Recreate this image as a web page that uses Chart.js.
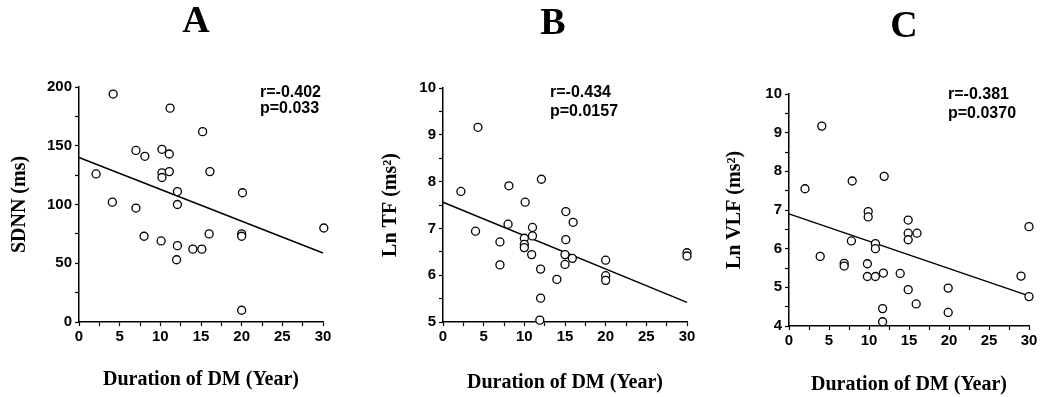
<!DOCTYPE html>
<html>
<head>
<meta charset="utf-8">
<script src="https://cdn.jsdelivr.net/npm/chart.js@4.4.1/dist/chart.umd.min.js"></script>
<style>
  html, body { margin: 0; padding: 0; background: #fff; }
  #wrap { position: relative; width: 1041px; height: 397px; overflow: hidden; }
  .panel { position: absolute; top: 0; height: 397px; }
</style>
</head>
<body>
<div id="wrap">
  <div class="panel" style="left:0;width:350px"><canvas id="cA" width="350" height="397"></canvas></div>
  <div class="panel" style="left:350px;width:350px"><canvas id="cB" width="350" height="397"></canvas></div>
  <div class="panel" style="left:700px;width:341px"><canvas id="cC" width="341" height="397"></canvas></div>
</div>
<script>
// ---------- data ----------
const xTickValues = [0, 5, 10, 15, 20, 25, 30];
const xAxisTitle = 'Duration of DM (Year)';

// Panel A : SDNN
const durationA = [2.1, 4.2, 4.1, 7.0, 7.0, 8.1, 8.0, 10.2, 10.2, 10.2, 10.1, 11.2, 11.1, 11.1, 12.1, 12.1, 12.1, 12.0, 14.0, 15.1, 15.2, 16.0, 16.1, 20.1, 20.0, 20.0, 20.0, 30.1];
const sdnn      = [126, 194, 102, 146, 97, 141, 73, 147, 127, 123, 69, 182, 143, 128, 111, 100, 65, 53, 62, 62, 162, 75, 128, 110, 75, 73, 10, 80];
const fitXA = [0, 30];
const fitYA = [140, 58.7];
const yTicksA = [0, 50, 100, 150, 200];
const statsA = ['r=-0.402', 'p=0.033'];

// Panel B : Ln TF
const durationB = [2.2, 4.3, 4.0, 7.0, 7.0, 8.1, 8.0, 10.1, 10.0, 10.0, 10.0, 11.0, 11.0, 10.9, 12.1, 12.0, 12.0, 11.9, 14.0, 15.1, 15.1, 15.0, 15.0, 16.0, 15.9, 20.0, 20.0, 20.0, 30.0, 30.0];
const lnTF      = [7.79, 9.16, 6.94, 6.71, 6.22, 7.91, 7.09, 7.56, 6.79, 6.66, 6.59, 7.02, 6.84, 6.44, 8.05, 6.13, 5.51, 5.04, 5.91, 7.36, 6.76, 6.44, 6.23, 7.13, 6.36, 6.32, 5.99, 5.89, 6.48, 6.41];
const fitXB = [0, 30];
const fitYB = [7.56, 5.42];
const yTicksB = [5, 6, 7, 8, 9, 10];
const statsB = ['r=-0.434', 'p=0.0157'];

// Panel C : Ln VLF
const durationC = [2.0, 4.1, 3.9, 6.9, 6.9, 7.9, 7.8, 9.9, 9.9, 9.8, 9.8, 10.8, 10.8, 10.8, 11.9, 11.8, 11.7, 11.7, 13.9, 14.9, 14.9, 14.9, 14.9, 16.0, 15.9, 19.9, 19.9, 29.0, 30.0, 30.0];
const lnVLF     = [7.55, 9.17, 5.80, 5.62, 5.55, 7.75, 6.20, 6.96, 6.82, 5.61, 5.28, 6.13, 6.00, 5.28, 7.87, 5.37, 4.45, 4.11, 5.36, 6.74, 6.40, 6.23, 4.94, 6.40, 4.57, 4.98, 4.35, 5.29, 4.76, 6.57];
const fitXC = [0, 30];
const fitYC = [6.90, 4.78];
const yTicksC = [4, 5, 6, 7, 8, 9, 10];
const statsC = ['r=-0.381', 'p=0.0370'];

// ---------- helpers ----------
function pts(xs, ys) { return xs.map((x, i) => ({ x: x, y: ys[i] })); }
function withMinor(vals) {
  const out = [];
  for (let i = 0; i < vals.length; i++) {
    out.push({ value: vals[i], major: true });
    if (i < vals.length - 1) out.push({ value: (vals[i] + vals[i + 1]) / 2, major: false });
  }
  return out;
}

const panelText = {
  id: 'panelText',
  afterDraw(chart, args, o) {
    const ctx = chart.ctx;
    ctx.save();
    ctx.fillStyle = '#000';
    ctx.textAlign = 'center';
    ctx.textBaseline = 'middle';
    ctx.font = 'bold 38px "Liberation Serif", "Times New Roman", serif';
    ctx.fillText(o.letter, o.lx, o.ly);
    ctx.textAlign = 'left';
    ctx.textBaseline = 'alphabetic';
    ctx.font = 'bold 16px "Liberation Sans", Arial, sans-serif';
    o.lines.forEach((t, i) => ctx.fillText(t, o.tx, o.ty + i * o.dy));
    ctx.restore();
  }
};

function makeChart(id, cfg) {
  const tickFont = { family: '"Liberation Sans", Arial, sans-serif', size: 15, weight: 'bold' };
  const titleFont = { family: '"Liberation Serif", "Times New Roman", serif', size: 20, weight: 'bold' };
  const axisCommon = (ticksList) => ({
    border: { display: true, color: '#000', width: 1.5 },
    grid: { display: true, drawOnChartArea: false, drawTicks: true, tickLength: 4, tickColor: '#000', tickWidth: 1.2 },
    afterBuildTicks: (scale) => { scale.ticks = withMinor(ticksList); },
    ticks: {
      autoSkip: false, maxRotation: 0, color: '#000', font: tickFont,
      callback: function (v, i, ticks) { return ticks[i] && ticks[i].major ? String(v) : ''; }
    }
  });
  const xAxis = Object.assign(axisCommon(xTickValues), {
    type: 'linear', position: 'bottom', min: 0, max: 30,
    afterFit: (s) => { s.height = cfg.xH; },
    title: { display: true, text: xAxisTitle, color: '#000', font: titleFont, padding: { top: 0, bottom: cfg.xTitlePad } }
  });
  xAxis.ticks.padding = 2;
  const yAxis = Object.assign(axisCommon(cfg.yTicks), {
    type: 'linear', position: 'left', min: cfg.yMin, max: cfg.yMax,
    afterFit: (s) => { s.width = cfg.yW; },
    title: { display: true, text: cfg.yTitle, color: '#000', font: titleFont, padding: { top: cfg.yTitlePad, bottom: 0 } }
  });
  yAxis.ticks.padding = 3;

  return new Chart(document.getElementById(id), {
    type: 'scatter',
    data: {
      datasets: [
        {
          type: 'line', data: pts(cfg.fitX, cfg.fitY), showLine: true,
          borderColor: '#000', borderWidth: 1.5, pointRadius: 0, fill: false, clip: false, order: 2
        },
        {
          data: pts(cfg.xs, cfg.ys), pointRadius: 4, pointHoverRadius: 4,
          pointBorderWidth: 1.3, pointBorderColor: '#000', pointBackgroundColor: '#fff',
          clip: false, order: 1
        }
      ]
    },
    options: {
      responsive: false, animation: false, events: [],
      layout: { padding: { left: 0, top: cfg.top, right: cfg.right, bottom: 0 } },
      scales: { x: xAxis, y: yAxis },
      plugins: {
        legend: { display: false }, tooltip: { enabled: false }, title: { display: false },
        panelText: cfg.text
      }
    },
    plugins: [panelText]
  });
}

makeChart('cA', {
  xs: durationA, ys: sdnn, fitX: fitXA, fitY: fitYA,
  yMin: 0, yMax: 200, yTicks: yTicksA, yTitle: 'SDNN (ms)',
  top: 87, right: 27, yW: 79, xH: 75, xTitlePad: 5, yTitlePad: 8,
  text: { letter: 'A', lx: 196, ly: 22, lines: statsA, tx: 260, ty: 97, dy: 16 }
});
makeChart('cB', {
  xs: durationB, ys: lnTF, fitX: fitXB, fitY: fitYB,
  yMin: 5, yMax: 10, yTicks: yTicksB, yTitle: 'Ln TF (ms²)',
  top: 88, right: 13, yW: 93, xH: 75, xTitlePad: 2, yTitlePad: 29,
  text: { letter: 'B', lx: 203, ly: 24, lines: statsB, tx: 200, ty: 97, dy: 19 }
});
makeChart('cC', {
  xs: durationC, ys: lnVLF, fitX: fitXC, fitY: fitYC,
  yMin: 4, yMax: 10, yTicks: yTicksC, yTitle: 'Ln VLF (ms²)',
  top: 94, right: 12, yW: 89, xH: 71, xTitlePad: 0, yTitlePad: 23,
  text: { letter: 'C', lx: 204, ly: 27, lines: statsC, tx: 248, ty: 99, dy: 19 }
});
</script>
</body>
</html>
